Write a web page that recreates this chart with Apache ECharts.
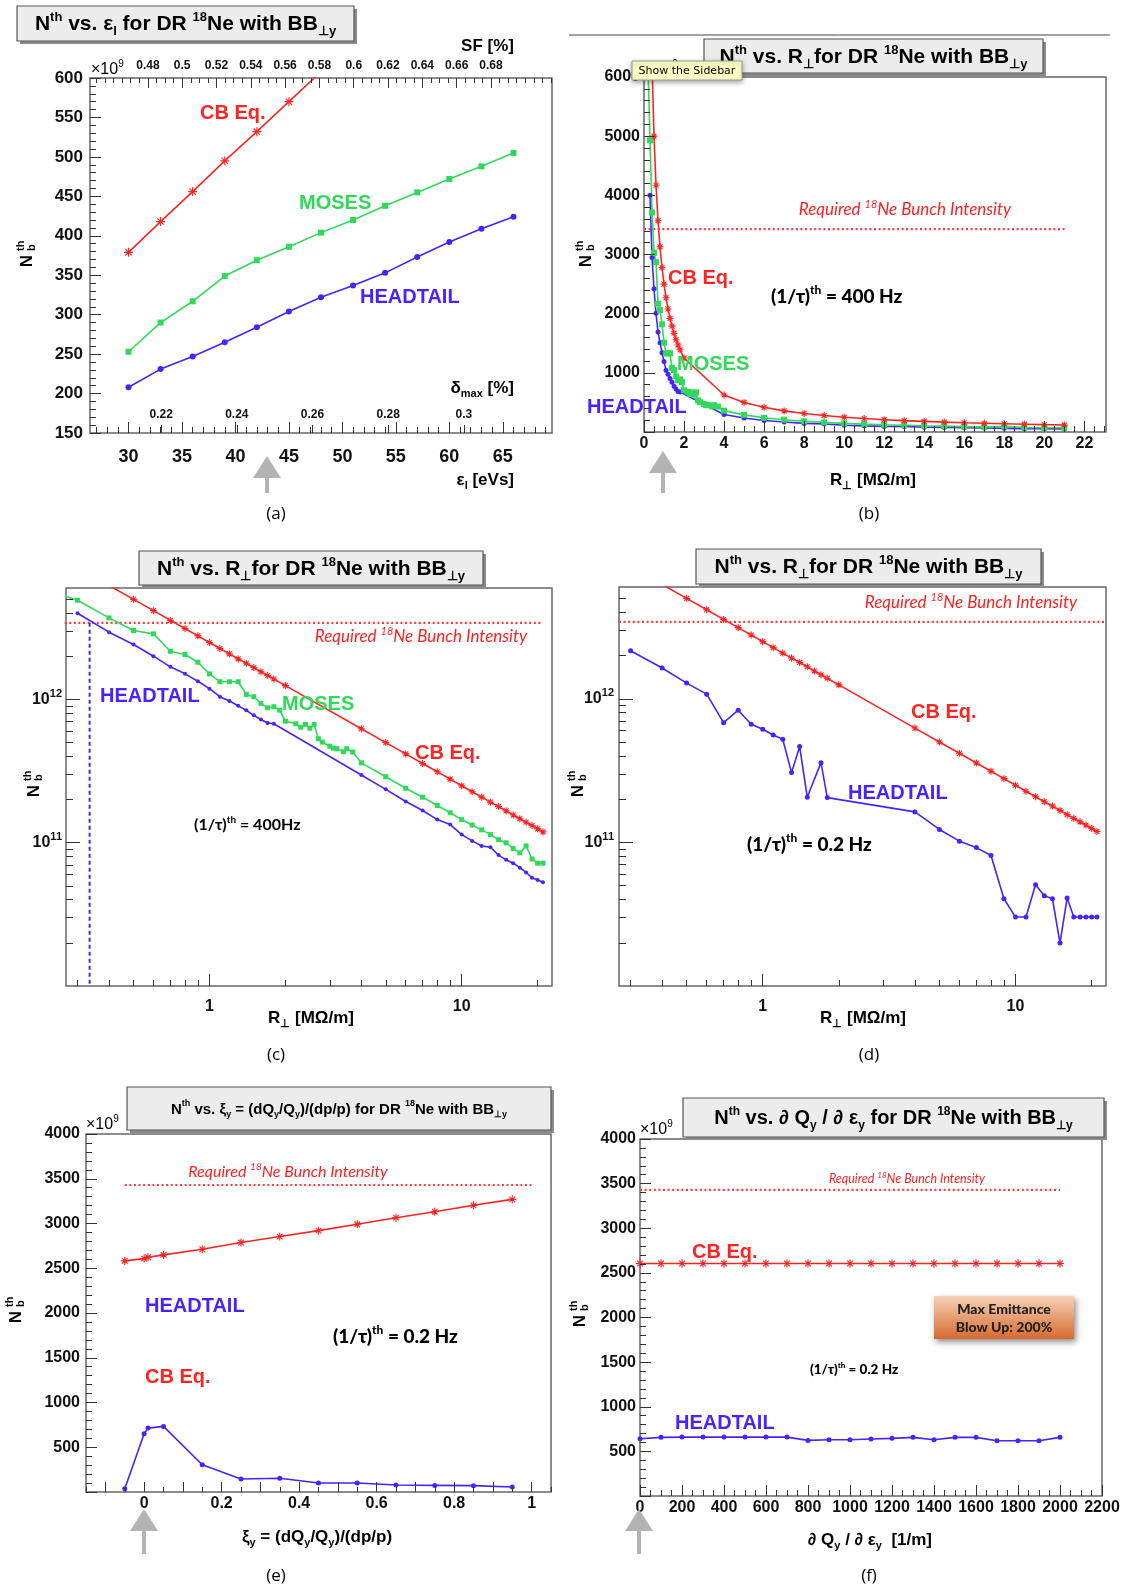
<!DOCTYPE html>
<html><head><meta charset="utf-8">
<script src="https://cdn.jsdelivr.net/npm/echarts@6/dist/echarts.min.js"></script>
<style>html,body{margin:0;padding:0;background:#fff}#c{width:1128px;height:1587px}</style>
</head><body><div id="c"></div>
<script>
// ---------------- DATA ----------------
// (a) N_th vs eps_l (x10^9)
const epsL = [30,33,36,39,42,45,48,51,54,57,60,63,66];
const aCB = [379,418,456,495,532,570,608];
const aMOSES = [253,290,317,349,369,386,404,420,438,455,472,488,505];
const aHEADTAIL = [208,231,247,265,284,304,322,337,353,373,392,409,424];
// (b),(c) N_th vs R_perp, 400 Hz (x10^9)
const cbR = [0.4,0.5,0.6,0.7,0.8,0.9,1.0,1.1,1.2,1.3,1.4,1.5,1.6,1.7,1.8,2,4,5,6,7,8,9,10,11,12,13,14,15,16,17,18,19,20,21];
const cbN = [6250,5000,4170,3570,3130,2780,2500,2270,2080,1920,1790,1670,1560,1470,1390,1250,625,500,417,357,313,278,250,227,208,192,179,167,156,147,139,132,125,119];
const htR = [0.3,0.4,0.5,0.6,0.7,0.8,0.9,1.0,1.1,1.2,1.3,1.4,1.5,1.6,1.7,1.8,4,5,6,7,8,9,10,11,12,13,14,15,16,17,18,19,20,21];
const htN = [4000,2950,2420,2005,1690,1510,1340,1190,1045,975,905,840,775,725,685,677,297,236,194,168,145,134,114,103,95,93,82,76,72,67,62,57,55,53];
const moR = [0.2,0.3,0.4,0.5,0.6,0.7,0.8,0.9,1.0,1.1,1.2,1.3,1.4,1.5,1.6,1.7,1.8,1.9,2.0,2.2,2.3,2.4,2.5,2.6,2.7,2.8,3.0,3.1,3.2,3.4,3.5,3.7,4,5,6,7,8,9,10,11,12,13,14,15,16,17,18,19,20,21];
const moN = [6200,4930,3710,3030,2870,2170,2060,1820,1510,1330,1330,1330,1085,1045,940,875,890,842,706,677,640,670,630,670,532,504,472,457,453,432,453,430,361,289,240,208,182,162,145,133,123,114,105,100,91,85,95,77,72,72];
// (d) HEADTAIL 0.2 Hz (x10^9)
const hdR = [0.3,0.4,0.5,0.6,0.7,0.8,0.9,1.0,1.1,1.2,1.3,1.4,1.5,1.7,1.8,4,5,6,7,8,9,10,11,12,13,14,15,16,17,18,19,20,21];
const hdN = [2160,1636,1285,1077,682,832,665,614,560,523,306,465,206,359,205,163,123,102,92,81,40.5,30.2,30.2,50.7,42.5,40.5,19.9,41,30.2,30.2,30.2,30.2,30.2];
// (e) N_th vs xi_y (x10^9)
const xi = [-0.05,0,0.01,0.05,0.15,0.25,0.35,0.45,0.55,0.65,0.75,0.85,0.95];
const eCB = [2582,2608,2623,2649,2712,2787,2854,2920,2991,3065,3132,3203,3270];
const eHT = [37,651,714,733,305,145,153,100,100,78,74,71,56];
// (f) N_th vs dQy/deps_y (x10^9)
const dq = [0,100,200,300,400,500,600,700,800,900,1000,1100,1200,1300,1400,1500,1600,1700,1800,1900,2000];
const fCB = [2605,2605,2605,2605,2605,2605,2605,2605,2605,2605,2605,2605,2605,2605,2605,2605,2605,2605,2605,2605,2605];
const fHT = [642,657,660,660,660,660,660,660,623,631,631,638,646,657,631,657,657,619,619,619,657];
// required bunch intensity (x10^9) and extents of the dotted line
const required = 3430;
const reqB = [0,21.1], reqC = [0.168,21], reqD = [0.27,22.6], reqE = [-0.05,1.0], reqF = [0,2000];
const vlineC = 0.335;
// tick labels
const aXLabels = [30,35,40,45,50,55,60,65];
const aYLabels = [150,200,250,300,350,400,450,500,550,600];
const sfLabels = [0.48,0.5,0.52,0.54,0.56,0.58,0.6,0.62,0.64,0.66,0.68];
const dLabels = [0.22,0.24,0.26,0.28,0.3];
const bXLabels = [0,2,4,6,8,10,12,14,16,18,20,22];
const bYLabels = [1000,2000,3000,4000,5000,6000];
const logXLabels = [1,10];
const logYLabels = [100,1000];
const eXLabels = [0,0.2,0.4,0.6,0.8,1];
const eYLabels = [500,1000,1500,2000,2500,3000,3500,4000];
const fXLabels = [0,200,400,600,800,1000,1200,1400,1600,1800,2000,2200];
const fYLabels = [500,1000,1500,2000,2500,3000,3500,4000];

// ---------------- STYLE ----------------
const RED='#ff2424', BLUE='#4a22ff', GREEN='#30d95a', TXT='#111';
const F='Liberation Sans';
const STAR='path://M5 0L5 10M0 5L10 5M1.5 1.5L8.5 8.5M1.5 8.5L8.5 1.5';

function range(a,b,s){const o=[];for(let v=a;v<=b+s*1e-6;v+=s)o.push(Math.round(v*1e6)/1e6);return o;}
function without(arr,ex){return arr.filter(v=>!ex.some(e=>Math.abs(e-v)<1e-9));}
const num = v => String(+(+v).toFixed(4));

const xAxis=[], yAxis=[], series=[], G=[];
function axes(list, gi, c){
  const common={gridIndex:gi,type:c.type||'value',min:c.min,max:c.max,position:c.pos,splitLine:{show:false},axisLine:{show:false,onZero:false},z:5};
  if(c.type==='log') common.logBase=10;
  const idx=list.length;
  list.push(Object.assign({},common,{
    axisTick: c.majors?{show:true,inside:true,length:c.majorLen||10,customValues:c.majors,lineStyle:{color:'#333',width:1}}:{show:false},
    axisLabel: c.labels?{show:true,customValues:c.labels,formatter:c.fmt||num,inside:!!c.labelInside,margin:c.margin,color:TXT,fontFamily:F,fontWeight:'bold',fontSize:c.fs||16,lineHeight:c.lh,rich:c.rich}:{show:false}
  }));
  if(c.minors) list.push(Object.assign({},common,{
    axisTick:{show:true,inside:true,length:c.minorLen||5,customValues:c.minors,lineStyle:{color:'#333',width:1}},
    axisLabel:{show:false}
  }));
  return idx;
}
function S(xi,yi,xs,ys,color,sym,size){
  const star=sym==='star';
  series.push({type:'line',xAxisIndex:xi,yAxisIndex:yi,data:xs.map((x,i)=>[x,ys[i]]),
    symbol:star?STAR:sym,symbolSize:size,animation:false,silent:true,clip:true,
    lineStyle:{color:color,width:1.6},
    itemStyle:star?{color:color,borderColor:color,borderWidth:1.1}:{color:color,borderWidth:0}});
}
function H(xi,yi,ext,y,clip){
  series.push({type:'line',xAxisIndex:xi,yAxisIndex:yi,data:[[ext[0],y],[ext[1],y]],symbol:'none',clip:clip!==false,animation:false,silent:true,
    lineStyle:{color:'#ff3b3b',width:2.2,type:[2,2.6]}});
}
function rich(fs,o){
  const b={fontFamily:o.ff||F,fontWeight:o.fw||'bold',fontStyle:o.it?'italic':'normal',fill:o.c||'#000',color:o.c||'#000'};
  return {sup:Object.assign({},b,{fontSize:Math.round(fs*0.62),verticalAlign:'top',lineHeight:Math.round(fs*0.75)}),
          sub:Object.assign({},b,{fontSize:Math.round(fs*0.62),verticalAlign:'bottom',lineHeight:Math.round(fs*0.75)})};
}
function T(x,y,text,o){
  o=o||{};const fs=o.fs||16;const al=o.al||'left';
  G.push({type:'text',x:x,y:y,z:100,silent:true,style:{text:text,fontSize:fs,fontFamily:o.ff||F,fontWeight:o.fw||'bold',fontStyle:o.it?'italic':'normal',
    fill:o.c||'#000',align:al,textAlign:al,verticalAlign:'middle',textVerticalAlign:'middle',lineHeight:o.lh||Math.round(fs*1.3),rich:rich(fs,o)}});
}
function titleBox(x1,y1,x2,y2,text,fs){
  G.push({type:'rect',z:90,silent:true,shape:{x:x1+3,y:y1+3,width:x2-x1,height:y2-y1},style:{fill:'#8a8a8a'}});
  G.push({type:'rect',z:91,silent:true,shape:{x:x1,y:y1,width:x2-x1,height:y2-y1},style:{fill:'#ececec',stroke:'#555',lineWidth:1.2}});
  T((x1+x2)/2,(y1+y2)/2+1,text,{fs:fs,al:'center'});
}
function yTitle(x,y,fs){
  const st=(t,f,al)=>({text:t,fontSize:f,fontFamily:F,fontWeight:'bold',fill:'#000',align:al,textAlign:al,verticalAlign:'middle',textVerticalAlign:'middle'});
  G.push({type:'group',x:x,y:y,rotation:Math.PI/2,z:100,children:[
    {type:'text',z:100,x:-4,y:0,style:st('N',fs,'center')},
    {type:'text',z:100,x:fs*0.36,y:-fs*0.33,style:st('th',Math.round(fs*0.62),'left')},
    {type:'text',z:100,x:fs*0.36,y:fs*0.28,style:st('b',Math.round(fs*0.62),'left')}
  ]});
}
function arrow(cx,yT,yB){
  G.push({type:'polygon',z:100,silent:true,shape:{points:[[cx,yT],[cx-14,yT+22],[cx+14,yT+22]]},style:{fill:'#b3b3b3'}});
  G.push({type:'rect',z:100,silent:true,shape:{x:cx-2,y:yT+22,width:4,height:yB-yT-22},style:{fill:'#b3b3b3'}});
}
function caption(x,y,t){T(x,y,t,{ff:'Open Sans',fw:'normal',fs:17,al:'center'});}

// ---------------- GRIDS ----------------
const gridBox={show:true,borderColor:'#666',borderWidth:1.5,backgroundColor:'transparent'};
const grid=[
  Object.assign({left:90,top:78,width:462,height:355},gridBox),
  Object.assign({left:644,top:77,width:462,height:355},gridBox),
  Object.assign({left:66,top:588,width:486,height:398},gridBox),
  Object.assign({left:619,top:587,width:487,height:399},gridBox),
  Object.assign({left:86,top:1134,width:465,height:358},gridBox),
  Object.assign({left:640,top:1139,width:462,height:357},gridBox)
];
const logYFmt = v => (Math.round(Math.log10(v))===3?'10{s|12}':'10{s|11}');
const logRich = {s:{fontSize:11,fontWeight:'bold',fontFamily:F,color:TXT,verticalAlign:'top',lineHeight:12}};

// (a)
const xa=axes(xAxis,0,{min:26.4,max:69.6,pos:'bottom',majors:aXLabels,labels:aXLabels,minors:without(range(27,69,1),aXLabels),fs:18,margin:15,majorLen:11,minorLen:6});
axes(xAxis,0,{min:0.2012,max:0.3233,pos:'bottom',majors:dLabels,labels:dLabels,labelInside:true,margin:12,fs:12,majorLen:8});
axes(xAxis,0,{min:0.44625,max:0.7156,pos:'top',majors:sfLabels,labels:sfLabels,minors:without(range(0.45,0.715,0.005),sfLabels),fs:12,margin:6,majorLen:10,minorLen:5});
const ya=axes(yAxis,0,{min:150,max:600,pos:'left',majors:aYLabels,labels:aYLabels,minors:without(range(160,590,10),aYLabels),fs:17,margin:7,majorLen:11,minorLen:6});
S(xa,ya,epsL.slice(0,aCB.length),aCB,RED,'star',9);
S(xa,ya,epsL,aMOSES,GREEN,'rect',6);
S(xa,ya,epsL,aHEADTAIL,BLUE,'circle',6);

// (b)
const xb=axes(xAxis,1,{min:0,max:23.08,pos:'bottom',majors:bXLabels,labels:bXLabels,minors:without(range(0.5,23,0.5),bXLabels),fs:16,margin:4,majorLen:11,minorLen:6});
const yb=axes(yAxis,1,{min:0,max:6000,pos:'left',majors:[0].concat(bYLabels),labels:bYLabels,minors:without(range(200,5800,200),bYLabels),fs:16,margin:4,majorLen:11,minorLen:6});
H(xb,yb,reqB,required);
S(xb,yb,htR,htN,BLUE,'circle',5);
S(xb,yb,moR,moN,GREEN,'rect',6);
S(xb,yb,cbR,cbN,RED,'star',7);

// (c)
const logXMinors=[0.3,0.4,0.5,0.6,0.7,0.8,0.9,2,3,4,5,6,7,8,9,20];
const logYMinors=[20,30,40,50,60,70,80,90,200,300,400,500,600,700,800,900,2000,3000,4000,5000];
const xc=axes(xAxis,2,{type:'log',min:0.27,max:22.8,pos:'bottom',majors:logXLabels,labels:logXLabels,minors:logXMinors,fs:16,margin:13,majorLen:12,minorLen:6});
const yc=axes(yAxis,2,{type:'log',min:10,max:6000,pos:'left',majors:logYLabels,labels:logYLabels,minors:logYMinors,fs:16,margin:4,majorLen:14,minorLen:7,fmt:logYFmt,rich:logRich,lh:22});
H(xc,yc,reqC,required,false);
series.push({type:'line',xAxisIndex:xc,yAxisIndex:yc,data:[[vlineC,required],[vlineC,10]],symbol:'none',animation:false,silent:true,lineStyle:{color:'#3030ff',width:2,type:[4,3]}});
S(xc,yc,htR,htN,BLUE,'circle',4);
S(xc,yc,moR,moN,GREEN,'rect',5);
S(xc,yc,cbR,cbN,RED,'star',7);

// (d)
const xd=axes(xAxis,3,{type:'log',min:0.27,max:22.8,pos:'bottom',majors:logXLabels,labels:logXLabels,minors:logXMinors,fs:16,margin:13,majorLen:12,minorLen:6});
const yd=axes(yAxis,3,{type:'log',min:10,max:6000,pos:'left',majors:logYLabels,labels:logYLabels,minors:logYMinors,fs:16,margin:5,majorLen:14,minorLen:7,fmt:logYFmt,rich:logRich,lh:22});
H(xd,yd,reqD,required);
S(xd,yd,hdR,hdN,BLUE,'circle',5);
S(xd,yd,cbR,cbN,RED,'star',7);

// (e)
const eMaj=range(-0.1,1.0,0.1);
const xe=axes(xAxis,4,{min:-0.15,max:1.05,pos:'bottom',majors:eMaj,labels:eXLabels,minors:without(range(-0.15,1.05,0.05),eMaj),fs:16,margin:4,majorLen:10,minorLen:5});
const ye=axes(yAxis,4,{min:0,max:4000,pos:'left',majors:[0].concat(eYLabels),labels:eYLabels,minors:without(range(100,3900,100),eYLabels),fs:16,margin:6,majorLen:11,minorLen:6});
H(xe,ye,reqE,required);
S(xe,ye,xi,eCB,RED,'star',8);
S(xe,ye,xi,eHT,BLUE,'circle',5);

// (f)
const xf=axes(xAxis,5,{min:0,max:2200,pos:'bottom',majors:fXLabels,labels:fXLabels,minors:without(range(50,2150,50),fXLabels),fs:16,margin:4,majorLen:11,minorLen:6});
const yf=axes(yAxis,5,{min:0,max:4000,pos:'left',majors:[0].concat(fYLabels),labels:fYLabels,minors:without(range(100,3900,100),fYLabels),fs:16,margin:4,majorLen:11,minorLen:6});
H(xf,yf,reqF,required);
S(xf,yf,dq,fCB,RED,'star',8);
S(xf,yf,dq,fHT,BLUE,'circle',5);

// ---------------- ANNOTATIONS ----------------
const TITLE_R='N{sup|th} vs. R{sub|⊥}for DR {sup|18}Ne with BB{sub|⊥y}';
const REQ='Required {sup|18}Ne Bunch Intensity';
const reqStyle=(fs)=>({ff:'Lato',fw:'normal',it:true,fs:fs,c:'#ff1f1f',al:'center'});
// (a)
titleBox(17,6,354,41,'N{sup|th} vs. ε{sub|l} for DR {sup|18}Ne with BB{sub|⊥y}',21);
T(91,70,'×10{sup|9}',{fs:16,fw:'normal'});
T(514,46,'SF [%]',{fs:17,al:'right'});
T(514,388,'δ{sub|max} [%]',{fs:17,al:'right'});
T(514,480,'ε{sub|l} [eVs]',{fs:17,al:'right'});
yTitle(27,257,17);
T(200,113,'CB Eq.',{fs:20,c:RED});
T(299,203,'MOSES',{fs:20,c:GREEN});
T(360,297,'HEADTAIL',{fs:20,c:BLUE});
arrow(267,456,493);
caption(276,514,'(a)');
// (b)
G.push({type:'line',z:100,silent:true,shape:{x1:569,y1:35,x2:1110,y2:35},style:{stroke:'#444',lineWidth:1}});
titleBox(704,39,1043,73,TITLE_R,21);
T(645,70,'×10{sup|9}',{fs:16,fw:'normal'});
T(905,210,REQ,reqStyle(17));
T(668,278,'CB Eq.',{fs:20,c:RED});
T(771,297,'(1/τ){sup|th} = 400 Hz',{ff:'Lato',fw:900,fs:19});
T(677,364,'MOSES',{fs:20,c:GREEN});
T(587,407,'HEADTAIL',{fs:20,c:BLUE});
T(873,480,'R{sub|⊥} [MΩ/m]',{fs:17,al:'center'});
yTitle(586,257,17);
arrow(663,451,493);
caption(869,514,'(b)');
G.push({type:'rect',z:199,silent:true,shape:{x:632,y:61,width:110,height:19},style:{fill:'#ffffc6',stroke:'#9a9a9a',lineWidth:1,shadowBlur:5,shadowColor:'rgba(0,0,0,0.35)',shadowOffsetY:2}});
G.push({type:'text',z:200,silent:true,x:687,y:71,style:{text:'Show the Sidebar',fontSize:11,fontFamily:'DejaVu Sans',fill:'#000',align:'center',textAlign:'center',verticalAlign:'middle',textVerticalAlign:'middle'}});
// (c)
titleBox(139,551,483,585,TITLE_R,21);
T(421,637,REQ,reqStyle(17));
T(100,696,'HEADTAIL',{fs:20,c:BLUE});
T(282,704,'MOSES',{fs:20,c:GREEN});
T(415,753,'CB Eq.',{fs:20,c:RED});
T(194,825,'(1/τ){sup|th} = 400Hz',{ff:'Lato',fw:'bold',fs:16});
T(311,1018,'R{sub|⊥} [MΩ/m]',{fs:17,al:'center'});
yTitle(34,787,17);
caption(276,1055,'(c)');
// (d)
titleBox(696,549,1041,584,TITLE_R,21);
T(971,603,REQ,reqStyle(17));
T(911,712,'CB Eq.',{fs:20,c:RED});
T(848,793,'HEADTAIL',{fs:20,c:BLUE});
T(747,845,'(1/τ){sup|th} = 0.2 Hz',{ff:'Lato',fw:900,fs:19});
T(863,1018,'R{sub|⊥} [MΩ/m]',{fs:17,al:'center'});
yTitle(578,787,17);
caption(869,1055,'(d)');
// (e)
titleBox(127,1087,551,1130,'N{sup|th} vs. ξ{sub|y} = (dQ{sub|y}/Q{sub|y})/(dp/p) for DR {sup|18}Ne with BB{sub|⊥y}',15);
T(86,1125,'×10{sup|9}',{fs:16,fw:'normal'});
T(288,1172,REQ,reqStyle(16));
T(145,1306,'HEADTAIL',{fs:20,c:BLUE});
T(145,1377,'CB Eq.',{fs:20,c:RED});
T(333,1337,'(1/τ){sup|th} = 0.2 Hz',{ff:'Lato',fw:900,fs:19});
T(317,1537,'ξ{sub|y} = (dQ{sub|y}/Q{sub|y})/(dp/p)',{fs:17,al:'center'});
yTitle(16,1313,17);
arrow(144,1509,1554);
caption(276,1576,'(e)');
// (f)
titleBox(683,1098,1104,1137,'N{sup|th} vs. ∂ Q{sub|y} / ∂ ε{sub|y} for DR {sup|18}Ne with BB{sub|⊥y}',20);
T(640,1130,'×10{sup|9}',{fs:16,fw:'normal'});
T(907,1179,REQ,reqStyle(12.5));
T(692,1252,'CB Eq.',{fs:20,c:RED});
T(675,1423,'HEADTAIL',{fs:20,c:BLUE});
T(810,1370,'(1/τ){sup|th} = 0.2 Hz',{ff:'Lato',fw:900,fs:13.5});
G.push({type:'rect',z:99,silent:true,shape:{x:934,y:1296,width:140,height:43},style:{
  fill:{type:'linear',x:0,y:0,x2:0,y2:1,colorStops:[{offset:0,color:'#f7d2b6'},{offset:1,color:'#d66a30'}]},
  shadowBlur:6,shadowColor:'rgba(0,0,0,0.45)',shadowOffsetX:2,shadowOffsetY:3}});
T(1004,1318,'Max Emittance\nBlow Up: 200%',{ff:'Lato',fw:900,fs:14,al:'center',c:'#222',lh:18});
T(870,1540,'∂ Q{sub|y} / ∂ ε{sub|y}  [1/m]',{fs:17,al:'center'});
yTitle(580,1317,17);
arrow(639,1509,1554);
caption(869,1576,'(f)');

// ---------------- RENDER ----------------
const chart=echarts.init(document.getElementById('c'),null,{renderer:'canvas'});
chart.setOption({backgroundColor:'#fff',animation:false,grid:grid,xAxis:xAxis,yAxis:yAxis,series:series,graphic:{elements:G}});
</script></body></html>
